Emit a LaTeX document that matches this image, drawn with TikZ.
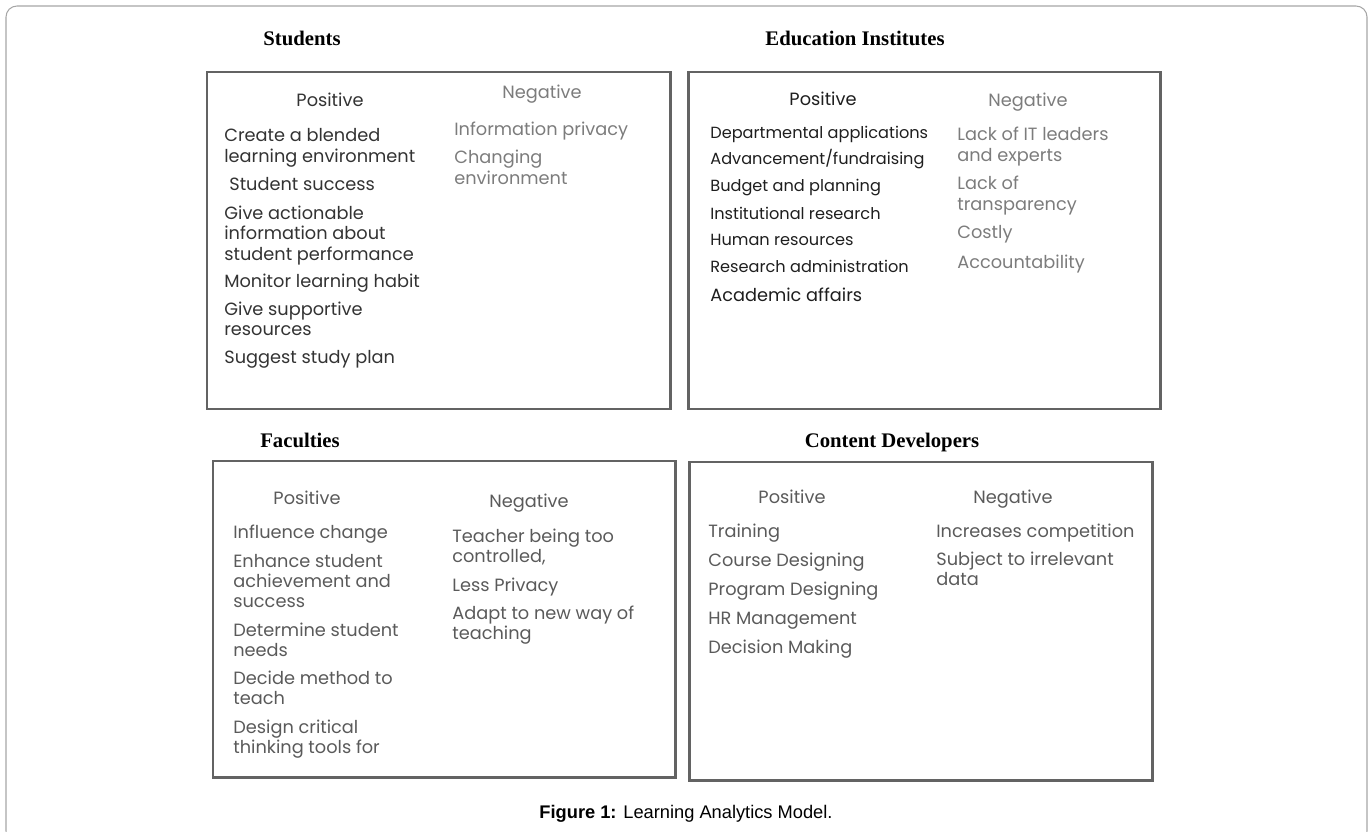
\documentclass[tikz,border=0pt]{standalone}
\usepackage{fontspec}
\setmainfont{Liberation Serif}
\newfontfamily\gothic{Poppins}
\newfontfamily\capfont{Liberation Sans}
\definecolor{framegray}{HTML}{A6A6A6}
\definecolor{boxgray}{HTML}{636363}
\definecolor{posdark}{HTML}{333333}
\definecolor{posblack}{HTML}{1E1E1E}
\definecolor{neggray}{HTML}{7C7C7C}
\definecolor{midgray}{HTML}{5A5A5A}
% stacked lines, baseline on the first one
\newcommand\lines[1]{\begin{tabular}[t]{@{}l@{}}#1\end{tabular}}
\tikzset{
  panel/.style={draw=boxgray, line width=1.7pt},
  grouptitle/.style={anchor=base, inner sep=0pt, font=\bfseries\fontsize{11.8}{13}\selectfont},
  colhead/.style={anchor=base, inner sep=0pt, font=\gothic\fontsize{10.1}{11.9}\selectfont},
  entry/.style={anchor=base west, inner sep=0pt, font=\gothic\fontsize{10.1}{11.9}\selectfont},
  small entry/.style={entry, font=\gothic\fontsize{9.2}{11}\selectfont},
  tight entry/.style={entry, font=\gothic\fontsize{10.1}{11.4}\selectfont}
}
\begin{document}
\begin{tikzpicture}[x=0.02cm,y=-0.02cm,line join=miter]
  \useasboundingbox (0,0) rectangle (1371,831);
  % outer frame, runs off the bottom
  \draw [color=framegray, line width=0.6pt, rounded corners=0.22cm] (6,6) rectangle (1367,842);

  % the four panels
  \draw [panel] (207,72) rectangle (670,409);
  \draw [panel] (688,72) rectangle (1160,409);
  \draw [panel] (213,461) rectangle (675,777);
  \draw [panel] (689,462) rectangle (1152,780);

  \node [grouptitle] (tstud) at (302,46) {Students};
  \node [grouptitle] (tedu) at (855,46) {Education Institutes};
  \node [grouptitle] (tfac) at (300,447) {Faculties};
  \node [grouptitle] (tcont) at (892,447) {Content Developers};

  % Students
  \node [colhead, color=posdark] (stpos) at (330,107) {Positive};
  \node [colhead, color=neggray] (stneg) at (542,99) {Negative};
  \foreach \y/\t in {142/{Create a blended\\learning environment},
                     219/{Give actionable\\information about\\student performance},
                     287/{Monitor learning habit},
                     315/{Give supportive\\resources},
                     363/{Suggest study plan}}
    \node [entry, color=posdark] (stp\y) at (224,\y) {\lines{\t}};
  \node [entry, color=posdark] (stp191) at (229,191) {Student success};
  \node [entry, color=neggray] (stn1) at (454,136) {Information privacy};
  \node [entry, color=neggray] (stn2) at (454,164) {\lines{Changing\\environment}};

  % Education Institutes
  \node [colhead, color=posblack] (edpos) at (823,106) {Positive};
  \node [colhead, color=neggray] (edneg) at (1028,107) {Negative};
  \foreach \y/\t in {139/{Departmental applications},
                     165/{Advancement/fundraising},
                     192/{Budget and planning},
                     219/{Institutional research},
                     245/{Human resources},
                     272/{Research administration}}
    \node [small entry, color=posblack] (edp\y) at (710,\y) {\t};
  \node [entry, color=posblack] (edp301) at (710,301) {Academic affairs};
  \foreach \y/\t in {141/{Lack of IT leaders\\and experts},
                     190/{Lack of\\transparency},
                     238/{Costly},
                     268/{Accountability}}
    \node [entry, color=neggray] (edn\y) at (957,\y) {\lines{\t}};

  % Faculties
  \node [colhead, color=midgray] (fapos) at (307,504) {Positive};
  \node [colhead, color=midgray] (faneg) at (529,507) {Negative};
  \foreach \y/\t in {538/{Influence change},
                     567/{Enhance student\\achievement and\\success},
                     636/{Determine student\\needs},
                     684/{Decide method to\\teach},
                     733/{Design critical\\thinking tools for}}
    \node [tight entry, color=midgray] (fap\y) at (233,\y) {\lines{\t}};
  \foreach \y/\t in {542/{Teacher being too\\controlled,},
                     591/{Less Privacy},
                     619/{Adapt to new way of\\teaching}}
    \node [tight entry, color=midgray] (fan\y) at (452,\y) {\lines{\t}};

  % Content Developers
  \node [colhead, color=midgray] (copos) at (792,503) {Positive};
  \node [colhead, color=midgray] (coneg) at (1013,503) {Negative};
  \foreach \y/\t in {537/Training, 566/Course Designing, 595/Program Designing,
                     624/HR Management, 653/Decision Making}
    \node [entry, color=midgray] (cop\y) at (708,\y) {\t};
  \node [entry, color=midgray] (con1) at (936,537) {Increases competition};
  \node [entry, color=midgray] (con2) at (936,565) {\lines{Subject to irrelevant\\data}};

  \node [anchor=base, inner sep=0pt, font=\capfont\fontsize{10.4}{12}\selectfont] (cap)
    at (686,818) {\textbf{Figure 1:} Learning Analytics Model.};
\end{tikzpicture}
\end{document}
